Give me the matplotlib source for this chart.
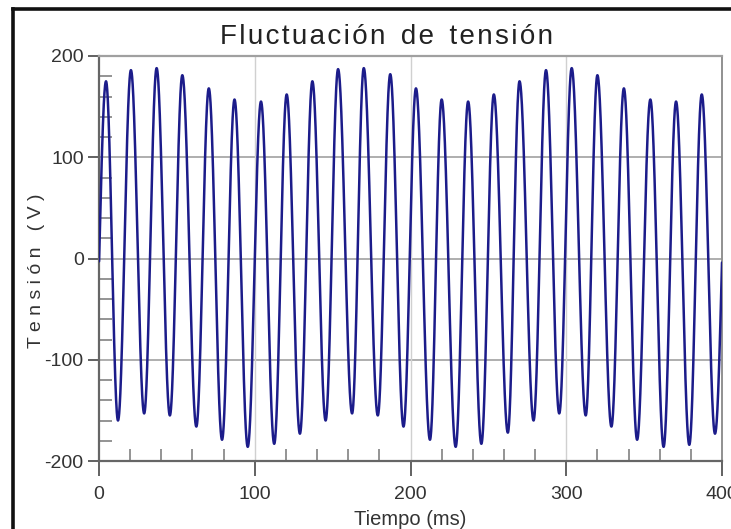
import numpy as np
import matplotlib
matplotlib.use("Agg")
import matplotlib.pyplot as plt
from matplotlib.lines import Line2D

plt.rcParams['font.family'] = ['Liberation Sans', 'DejaVu Sans']
plt.rcParams['axes.unicode_minus'] = False

# ---- data ----
peak_t = [4.5, 20.5, 37, 53.5, 70.5, 87, 104, 120.5, 137, 153.5, 170, 187,
          203.5, 220, 237, 253.5, 270, 287, 303.5, 320, 337, 354, 370.5, 387]
peak_v = [175, 186, 188, 181, 168, 157, 155, 162, 175, 187, 188, 182,
          168, 157, 155, 162, 175, 186, 188, 181, 168, 157, 155, 162]
trough_t = [12.2, 29, 45.5, 62.5, 79, 95.5, 112.5, 129, 145.5, 162.5, 179, 195.5,
            212.5, 229, 245.5, 262.5, 279, 295.5, 312.5, 329, 345.5, 362.5, 379, 395.5]
trough_v = [-160, -153, -155, -166, -179, -186, -183, -173, -160, -153, -155, -166,
            -179, -186, -183, -172, -160, -153, -155, -166, -179, -186, -184, -173]
start_t, start_v = -3.9, -150     # preceding trough (outside the view)
end_t, end_v = 404.5, 165         # following peak (outside the view)
t_max_data = 400.0

x_ticks = [0, 100, 200, 300, 400]
y_ticks = [-200, -100, 0, 100, 200]

# ---- build the waveform through the read extremes (half-cosine shape) ----
ext_t = [start_t]
ext_v = [start_v]
for pt, pv, tt, tv in zip(peak_t, peak_v, trough_t, trough_v):
    ext_t += [pt, tt]
    ext_v += [pv, tv]
ext_t.append(end_t)
ext_v.append(end_v)

tt_all, vv_all = [], []
for i in range(len(ext_t) - 1):
    t0, t1 = ext_t[i], ext_t[i + 1]
    v0, v1 = ext_v[i], ext_v[i + 1]
    s = np.linspace(0, 1, 100, endpoint=False)
    tt_all.append(t0 + (t1 - t0) * s)
    vv_all.append((v0 + v1) / 2 + (v0 - v1) / 2 * np.cos(np.pi * s))
t = np.concatenate(tt_all)
v = np.concatenate(vv_all)
mask = (t >= 0) & (t <= t_max_data)
t, v = t[mask], v[mask]

# ---- figure ----
W, H = 731, 529
fig = plt.figure(figsize=(W / 100, H / 100), dpi=100)
ax = fig.add_axes([99 / W, 1 - 461 / H, 623 / W, 405 / H])

ax.plot(t, v, color='#1c1c8a', lw=1.8, solid_capstyle='round', zorder=3)

ax.set_xlim(0, 400)
ax.set_ylim(-200, 200)
ax.set_xticks(x_ticks)
ax.set_yticks(y_ticks)
ax.set_xticks(np.arange(0, 401, 20), minor=True)
ax.set_yticks(np.arange(-200, 201, 20), minor=True)

for yv in [-100, 0, 100]:
    ax.axhline(yv, color='#a8a8a8', lw=1.3, zorder=1)
for xv in [100, 200, 300]:
    ax.axvline(xv, color='#d0d0d0', lw=1.0, zorder=1)

ax.tick_params(axis='y', which='major', direction='out', length=8, width=1.3,
               color='#555555', labelsize=14, labelcolor='#333333', pad=3)
ax.tick_params(axis='x', which='major', direction='out', length=11, width=1.3,
               color='#555555', labelsize=14, labelcolor='#333333', pad=7)
ax.tick_params(which='minor', direction='in', length=9, width=1.1, color='#777777')

for side, col, lw in [('left', '#666666', 1.6), ('bottom', '#666666', 1.6),
                      ('top', '#a0a0a0', 1.6), ('right', '#909090', 1.4)]:
    ax.spines[side].set_color(col)
    ax.spines[side].set_linewidth(lw)

hs = "\u200a"
title = (hs.join("Fluctuación") + "  " + hs.join("de") + "  " + hs.join("tensión"))
ax.set_title(title, fontsize=20, color='#222222', pad=9, x=0.462)
ax.set_xlabel("Tiempo (ms)", fontsize=14.5, color='#333333')
ax.xaxis.set_label_coords(0.5, -0.12)
ax.set_ylabel("T e n s i ó n   ( V )", fontsize=14, color='#333333')
ax.yaxis.label.set_va('center')
ax.yaxis.set_label_coords(-0.1, 0.469)

# screenshot frame (thick black border at left and top)
fig.add_artist(Line2D([13 / W, 13 / W], [0, 1 - 9 / H], transform=fig.transFigure,
                      color='#111111', lw=2.6))
fig.add_artist(Line2D([13 / W, 1], [1 - 9 / H, 1 - 9 / H], transform=fig.transFigure,
                      color='#111111', lw=2.6))

fig.savefig("out.png", dpi=100)
